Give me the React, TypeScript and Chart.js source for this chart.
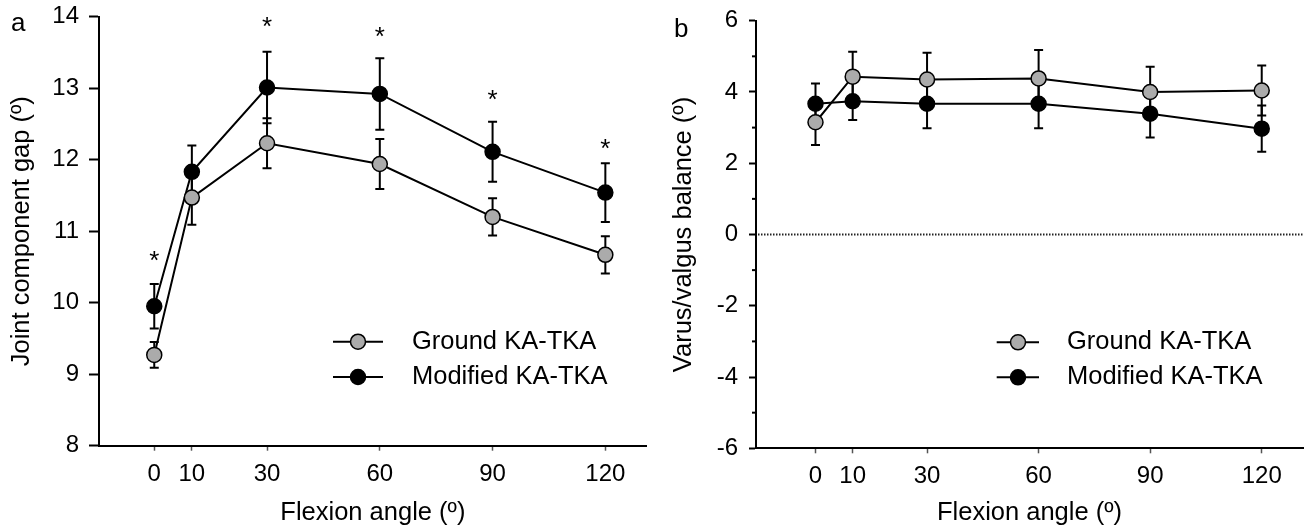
import React, { useEffect, useRef } from "react";
import { Chart, registerables } from "chart.js";

Chart.register(...registerables);

const FONT = "'Liberation Sans', Arial, Helvetica, sans-serif";

// ---------- data ----------
const flexionAngles = [0, 10, 30, 60, 90, 120];
const xTickValues = [0, 10, 30, 60, 90, 120];
const seriesNames = ["Ground KA-TKA", "Modified KA-TKA"];

// panel a : joint component gap
const gapGround = [9.27, 11.47, 12.23, 11.94, 11.2, 10.67];
const gapGroundErr = [0.18, 0.38, 0.35, 0.35, 0.26, 0.26];
const gapModified = [9.95, 11.83, 13.01, 12.92, 12.11, 11.54];
const gapModifiedErr = [0.31, 0.37, 0.5, 0.5, 0.42, 0.41];
const gapSigAngles = [0, 30, 60, 90, 120];
const gapSigY = [10.65, 13.92, 13.79, 12.9, 12.22];

// panel b : varus/valgus balance
const vvGround = [3.15, 4.43, 4.35, 4.38, 4.0, 4.04];
const vvGroundErr = [0.64, 0.7, 0.75, 0.8, 0.71, 0.7];
const vvModified = [3.67, 3.74, 3.67, 3.67, 3.39, 2.97];
const vvModifiedErr = [0.57, 0.53, 0.69, 0.69, 0.67, 0.65];
const vvMinorTicks = [-5, -3, -1, 1, 3, 5];

const GRAY = "#ababab";
const BLACK = "#000000";

// ---------- plugins ----------
const errorBarPlugin = {
  id: "errorBars",
  beforeDatasetsDraw(chart: any) {
    const ctx = chart.ctx;
    const yScale = chart.scales.y;
    chart.data.datasets.forEach((ds: any, i: number) => {
      const errs = ds.errors;
      if (!errs) return;
      const meta = chart.getDatasetMeta(i);
      ctx.save();
      ctx.strokeStyle = BLACK;
      ctx.lineWidth = 2;
      meta.data.forEach((pt: any, j: number) => {
        const v = ds.data[j].y;
        const e = errs[j];
        const x = pt.x;
        const yt = yScale.getPixelForValue(v + e);
        const yb = yScale.getPixelForValue(v - e);
        ctx.beginPath();
        ctx.moveTo(x, yt);
        ctx.lineTo(x, yb);
        ctx.moveTo(x - 4.5, yt);
        ctx.lineTo(x + 4.5, yt);
        ctx.moveTo(x - 4.5, yb);
        ctx.lineTo(x + 4.5, yb);
        ctx.stroke();
      });
      ctx.restore();
    });
  },
};

const zeroLinePlugin = {
  id: "zeroLine",
  beforeDatasetsDraw(chart: any, _args: any, opts: any) {
    if (!opts || opts.value === undefined) return;
    const ctx = chart.ctx;
    const y = chart.scales.y.getPixelForValue(opts.value);
    const { left, right } = chart.chartArea;
    ctx.save();
    ctx.strokeStyle = "#222";
    ctx.lineWidth = 2;
    ctx.setLineDash([1.5, 1.5]);
    ctx.beginPath();
    ctx.moveTo(left + 2, y);
    ctx.lineTo(right, y);
    ctx.stroke();
    ctx.restore();
  },
};

const minorTickPlugin = {
  id: "minorTicks",
  afterDraw(chart: any, _args: any, opts: any) {
    if (!opts || !opts.values) return;
    const ctx = chart.ctx;
    const yScale = chart.scales.y;
    const left = chart.chartArea.left;
    ctx.save();
    ctx.strokeStyle = BLACK;
    ctx.lineWidth = 2;
    opts.values.forEach((v: number) => {
      const y = yScale.getPixelForValue(v);
      ctx.beginPath();
      ctx.moveTo(left - opts.length, y);
      ctx.lineTo(left, y);
      ctx.stroke();
    });
    ctx.restore();
  },
};

const asteriskPlugin = {
  id: "asterisks",
  afterDatasetsDraw(chart: any, _args: any, opts: any) {
    if (!opts || !opts.xs) return;
    const ctx = chart.ctx;
    ctx.save();
    ctx.fillStyle = BLACK;
    ctx.font = `26px ${FONT}`;
    ctx.textAlign = "center";
    ctx.textBaseline = "alphabetic";
    const m = ctx.measureText("*");
    const off = (m.actualBoundingBoxAscent - m.actualBoundingBoxDescent) / 2;
    opts.xs.forEach((xv: number, i: number) => {
      const x = chart.scales.x.getPixelForValue(xv);
      const y = chart.scales.y.getPixelForValue(opts.ys[i]);
      ctx.fillText("*", x, y + off);
    });
    ctx.restore();
  },
};

const legendPlugin = {
  id: "customLegend",
  afterDraw(chart: any, _args: any, opts: any) {
    if (!opts || !opts.rows) return;
    const ctx = chart.ctx;
    ctx.save();
    chart.data.datasets.forEach((ds: any, i: number) => {
      const y = opts.rows[i];
      ctx.strokeStyle = BLACK;
      ctx.lineWidth = 2;
      ctx.beginPath();
      ctx.moveTo(opts.lineX0, y);
      ctx.lineTo(opts.lineX1, y);
      ctx.stroke();
      ctx.beginPath();
      ctx.arc(opts.markerX, y, 7.5, 0, Math.PI * 2);
      ctx.fillStyle = ds.pointBackgroundColor;
      ctx.fill();
      ctx.lineWidth = 1.5;
      ctx.stroke();
      ctx.fillStyle = BLACK;
      ctx.font = `25.5px ${FONT}`;
      ctx.textAlign = "left";
      ctx.textBaseline = "middle";
      ctx.fillText(ds.label, opts.textX, y);
    });
    ctx.restore();
  },
};

const panelLabelPlugin = {
  id: "panelLabel",
  afterDraw(chart: any, _args: any, opts: any) {
    if (!opts || !opts.text) return;
    const ctx = chart.ctx;
    ctx.save();
    ctx.fillStyle = BLACK;
    ctx.font = `26px ${FONT}`;
    ctx.textAlign = "left";
    ctx.textBaseline = "alphabetic";
    ctx.fillText(opts.text, opts.x, opts.y);
    ctx.restore();
  },
};

// ---------- config ----------
type Panel = {
  ground: number[];
  groundErr: number[];
  modified: number[];
  modifiedErr: number[];
  yMin: number;
  yMax: number;
  yStep: number;
  yTitle: string;
  xMin: number;
  xMax: number;
  yAxisWidth: number;
  xAxisHeight: number;
  padTop: number;
  padRight: number;
  yTickLen: number;
  yTickPad: number;
  yTitlePad: number;
  legend: any;
  label: any;
  asterisks?: any;
  zeroLine?: any;
  minorTicks?: any;
};

function makeConfig(p: Panel): any {
  const toPts = (vals: number[]) => flexionAngles.map((x, i) => ({ x, y: vals[i] }));
  return {
    type: "line",
    data: {
      datasets: [
        {
          label: seriesNames[0],
          data: toPts(p.ground),
          errors: p.groundErr,
          borderColor: BLACK,
          borderWidth: 2,
          pointRadius: 7.5,
          pointBorderWidth: 1.5,
          pointBorderColor: BLACK,
          pointBackgroundColor: GRAY,
          tension: 0,
          fill: false,
        },
        {
          label: seriesNames[1],
          data: toPts(p.modified),
          errors: p.modifiedErr,
          borderColor: BLACK,
          borderWidth: 2,
          pointRadius: 7.5,
          pointBorderWidth: 1.5,
          pointBorderColor: BLACK,
          pointBackgroundColor: BLACK,
          tension: 0,
          fill: false,
        },
      ],
    },
    plugins: [errorBarPlugin, zeroLinePlugin, minorTickPlugin, asteriskPlugin, legendPlugin, panelLabelPlugin],
    options: {
      responsive: false,
      animation: false,
      devicePixelRatio: 1,
      layout: { padding: { left: 0, right: p.padRight, top: p.padTop, bottom: 0 } },
      plugins: {
        legend: { display: false },
        tooltip: { enabled: false },
        customLegend: p.legend,
        panelLabel: p.label,
        asterisks: p.asterisks || {},
        zeroLine: p.zeroLine || {},
        minorTicks: p.minorTicks || {},
      },
      scales: {
        x: {
          type: "linear",
          min: p.xMin,
          max: p.xMax,
          afterBuildTicks: (scale: any) => {
            scale.ticks = xTickValues.map((v) => ({ value: v }));
          },
          afterFit: (scale: any) => {
            scale.height = p.xAxisHeight;
            scale.paddingLeft = 0;
            scale.paddingRight = 0;
          },
          ticks: {
            autoSkip: false,
            maxRotation: 0,
            padding: 9,
            color: BLACK,
            font: { family: FONT, size: 24 },
          },
          grid: {
            display: true,
            drawOnChartArea: false,
            drawTicks: true,
            tickLength: 5,
            tickColor: "#555",
            tickWidth: 1.5,
          },
          border: { display: true, color: BLACK, width: 2 },
          title: {
            display: true,
            text: "Flexion angle (º)",
            color: BLACK,
            font: { family: FONT, size: 25.5, lineHeight: 1 },
            padding: { top: 0, bottom: 0 },
          },
        },
        y: {
          type: "linear",
          min: p.yMin,
          max: p.yMax,
          afterFit: (scale: any) => {
            scale.width = p.yAxisWidth;
            scale.paddingTop = 0;
            scale.paddingBottom = 0;
          },
          ticks: {
            stepSize: p.yStep,
            padding: p.yTickPad,
            color: BLACK,
            font: { family: FONT, size: 24 },
          },
          grid: {
            display: true,
            drawOnChartArea: false,
            drawTicks: true,
            tickLength: p.yTickLen,
            tickColor: BLACK,
            tickWidth: 2,
          },
          border: { display: true, color: BLACK, width: 2 },
          title: {
            display: true,
            text: p.yTitle,
            color: BLACK,
            font: { family: FONT, size: 25.5, lineHeight: 1.2 },
            padding: { top: p.yTitlePad, bottom: 0 },
          },
        },
      },
    },
  };
}

const panelA: Panel = {
  ground: gapGround,
  groundErr: gapGroundErr,
  modified: gapModified,
  modifiedErr: gapModifiedErr,
  yMin: 8,
  yMax: 14,
  yStep: 1,
  yTitle: "Joint component gap (º)",
  xMin: -14.7,
  xMax: 131,
  yAxisWidth: 99,
  xAxisHeight: 80.3,
  padTop: 16.7,
  padRight: 9.3,
  yTickLen: 10,
  yTickPad: 10,
  yTitlePad: 7,
  legend: { rows: [341.7, 377], lineX0: 333, lineX1: 383, markerX: 358, textX: 412 },
  label: { text: "a", x: 11, y: 30.7 },
  asterisks: { xs: gapSigAngles, ys: gapSigY },
};

const panelB: Panel = {
  ground: vvGround,
  groundErr: vvGroundErr,
  modified: vvModified,
  modifiedErr: vvModifiedErr,
  yMin: -6,
  yMax: 6,
  yStep: 2,
  yTitle: "Varus/valgus balance (º)",
  xMin: -16,
  xMax: 131.1,
  yAxisWidth: 100,
  xAxisHeight: 77.7,
  padTop: 20.7,
  padRight: 2,
  yTickLen: 7,
  yTickPad: 11,
  yTitlePad: 12.5,
  legend: { rows: [342.3, 377.3], lineX0: 340.7, lineX1: 383, markerX: 362, textX: 411 },
  label: { text: "b", x: 18, y: 36.7 },
  zeroLine: { value: 0 },
  minorTicks: { values: vvMinorTicks, length: 4 },
};

export default function App() {
  const refA = useRef<HTMLCanvasElement | null>(null);
  const refB = useRef<HTMLCanvasElement | null>(null);

  useEffect(() => {
    const a = new Chart(refA.current as HTMLCanvasElement, makeConfig(panelA));
    const b = new Chart(refB.current as HTMLCanvasElement, makeConfig(panelB));
    return () => {
      a.destroy();
      b.destroy();
    };
  }, []);

  return (
    <div
      style={{
        position: "absolute",
        left: 0,
        top: 0,
        width: 1312,
        height: 526,
        background: "#fff",
        overflow: "hidden",
      }}
    >
      <canvas
        ref={refA}
        width={656}
        height={526}
        style={{ position: "absolute", left: 0, top: 0, width: 656, height: 526 }}
      />
      <canvas
        ref={refB}
        width={656}
        height={526}
        style={{ position: "absolute", left: 656, top: 0, width: 656, height: 526 }}
      />
    </div>
  );
}
